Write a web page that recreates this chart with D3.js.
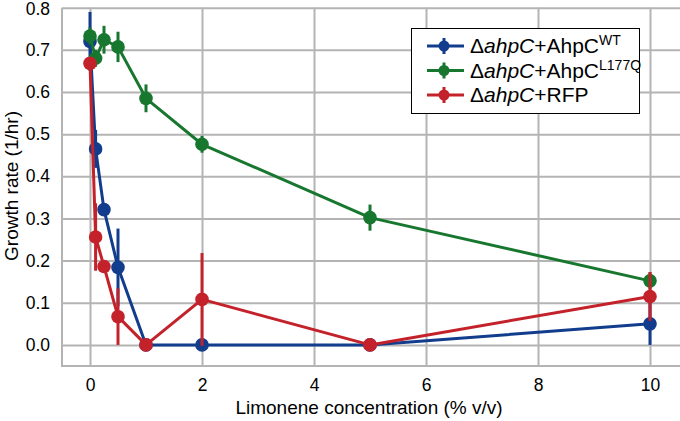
<!DOCTYPE html>
<html><head><meta charset="utf-8">
<script src="https://cdn.jsdelivr.net/npm/d3@7"></script>
<style>
body{margin:0;background:#fff;}
text{font-family:"Liberation Sans",Arial,sans-serif;}
</style></head>
<body><svg id="c" width="680" height="421"></svg>
<script>
const conc = [0, 0.1, 0.25, 0.5, 1, 2, 5, 10];
const wt = [0.720, 0.465, 0.321, 0.184, 0, 0, 0, 0.050];
const wtErr = [0.07, 0.045, 0.015, 0.092, 0, 0, 0, 0.05];
const l177q = [0.733, 0.680, 0.724, 0.707, 0.585, 0.476, 0.302, 0.152];
const l177qErr = [0.02, 0.02, 0.033, 0.036, 0.033, 0.02, 0.031, 0.02];
const rfp = [0.668, 0.256, 0.186, 0.067, 0, 0.108, 0, 0.115];
const rfpErr = [0.01, 0.08, 0.01, 0.067, 0, 0.11, 0, 0.058];
const xTicks = [0, 2, 4, 6, 8, 10];
const yTicks = [0, 0.1, 0.2, 0.3, 0.4, 0.5, 0.6, 0.7, 0.8];
const seriesNames = ["WT", "L177Q", "RFP"];
const colors = ["#123c8c", "#17772f", "#c4222a"];

const series = [
  {name: seriesNames[0], vals: wt, err: wtErr, color: colors[0], sup: "WT", base: "+AhpC"},
  {name: seriesNames[1], vals: l177q, err: l177qErr, color: colors[1], sup: "L177Q", base: "+AhpC"},
  {name: seriesNames[2], vals: rfp, err: rfpErr, color: colors[2], sup: "", base: "+RFP"}
];

const svg = d3.select("#c");
const L = 62, R = 678, T = 7.7, B = 366;
const x = d3.scaleLinear().domain([-0.5, 10.5]).range([L, R]);
const y = d3.scaleLinear().domain([-0.05, 0.8]).range([B, T]);
const gridCol = "#b4b4b4";

const gy = svg.append("g").attr("transform", `translate(${L},0)`)
  .call(d3.axisLeft(y).tickValues(yTicks).tickSize(-(680 - L)).tickFormat(d3.format(".1f")).tickPadding(12));
const gx = svg.append("g").attr("transform", `translate(0,${B})`)
  .call(d3.axisBottom(x).tickValues(xTicks).tickSize(-(B - T)).tickFormat(d3.format("d")).tickPadding(13));
[gy, gx].forEach(g => {
  g.select(".domain").remove();
  g.selectAll(".tick line").attr("stroke", gridCol).attr("stroke-width", 2);
  g.selectAll(".tick text").attr("fill", "#000").style("font-size", "17.5px")
    .style("font-family", "'Liberation Sans',Arial,sans-serif");
});
// keep the top label inside the picture
gy.selectAll(".tick text").filter(d => d === 0.8).attr("y", 1.5);
svg.append("line").attr("x1", L).attr("x2", L).attr("y1", T).attr("y2", B + 1).attr("stroke", gridCol).attr("stroke-width", 2);
svg.append("line").attr("x1", L - 1).attr("x2", 680).attr("y1", B).attr("y2", B).attr("stroke", gridCol).attr("stroke-width", 2);

const line = d3.line().x((d, i) => x(conc[i])).y(d => y(d));
series.forEach(s => {
  const g = svg.append("g");
  g.append("path").datum(s.vals).attr("d", line).attr("fill", "none")
    .attr("stroke", s.color).attr("stroke-width", 3).attr("stroke-linejoin", "round");
  g.selectAll("line.err").data(s.vals).enter().append("line")
    .attr("x1", (d, i) => x(conc[i])).attr("x2", (d, i) => x(conc[i]))
    .attr("y1", (d, i) => y(d + s.err[i])).attr("y2", (d, i) => y(d - s.err[i]))
    .attr("stroke", s.color).attr("stroke-width", 3);
  g.selectAll("circle").data(s.vals).enter().append("circle")
    .attr("cx", (d, i) => x(conc[i])).attr("cy", d => y(d)).attr("r", 6.8)
    .attr("fill", s.color);
});

svg.append("text").attr("x", 369).attr("y", 414).attr("text-anchor", "middle")
  .style("font-size", "19px").text("Limonene concentration (% v/v)");
svg.append("text").attr("transform", "translate(18,186) rotate(-90)").attr("text-anchor", "middle")
  .style("font-size", "19px").text("Growth rate (1/hr)");

const lg = svg.append("g");
lg.append("rect").attr("x", 411.5).attr("y", 28.5).attr("width", 228).attr("height", 85)
  .attr("fill", "#fff").attr("stroke", "#000").attr("stroke-width", 1);
series.forEach((s, i) => {
  const cy = 46 + i * 24.5;
  lg.append("line").attr("x1", 427).attr("x2", 464).attr("y1", cy).attr("y2", cy)
    .attr("stroke", s.color).attr("stroke-width", 3);
  lg.append("line").attr("x1", 444).attr("x2", 444).attr("y1", cy - 8).attr("y2", cy + 8)
    .attr("stroke", s.color).attr("stroke-width", 3);
  lg.append("circle").attr("cx", 444).attr("cy", cy).attr("r", 5.5).attr("fill", s.color);
  const t = lg.append("text").attr("x", 470).attr("y", cy + 7).style("font-size", "21px");
  t.append("tspan").text("Δ");
  t.append("tspan").style("font-style", "italic").text("ahpC");
  t.append("tspan").text(s.base);
  if (s.sup) t.append("tspan").attr("dy", -8).style("font-size", "14px").text(s.sup);
});
</script></body></html>
